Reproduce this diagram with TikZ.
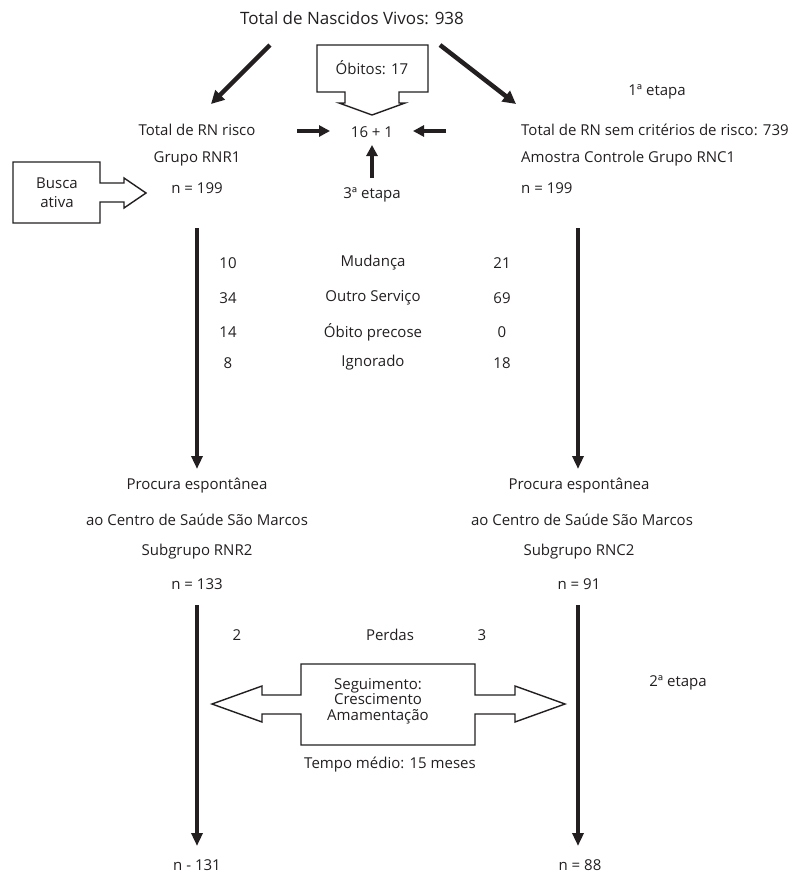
\documentclass[tikz,border=0pt]{standalone}
\usepackage{fontspec}
\setmainfont{Open Sans}
\usetikzlibrary{arrows.meta}
\definecolor{ink}{HTML}{231F20}
\begin{document}
\begin{tikzpicture}[x=1pt,y=-1pt,
  lbl/.style={font=\fontsize{15}{17}\selectfont, text=ink, inner sep=0pt},
  fat/.style={draw=ink, line width=4.5pt, -{Triangle[length=13pt,width=13pt]}},
  vline/.style={draw=ink, line width=4.5pt, -{Triangle[length=13pt,width=11pt]}},
  blk/.style={draw=ink, line width=1.4pt, fill=white, line join=miter}]
\useasboundingbox (0,0) rectangle (799,876);

% texts
\node[lbl, font=\fontsize{17}{20}\selectfont] (title) at (352,18) {Total de Nascidos Vivos: 938};
\node[lbl] (etapa1) at (657,92) {1ª etapa};
\node[lbl] (lt1) at (197,130) {Total de RN risco};
\node[lbl] (lt2) at (197,159) {Grupo RNR1};
\node[lbl] (lt3) at (197,188) {n = 199};
\node[lbl, anchor=west] (rt1) at (521,130) {Total de RN sem critérios de risco: 739};
\node[lbl, anchor=west] (rt2) at (521,159) {Amostra Controle Grupo RNC1};
\node[lbl, anchor=west] (rt3) at (521,188) {n = 199};
\node[lbl] (sum) at (372,132) {16 + 1};
\node[lbl] (etapa3) at (372,195) {3ª etapa};

% table
\node[lbl] (a1) at (228,263) {10};
\node[lbl] (b1) at (373,263) {Mudança};
\node[lbl] (c1) at (502,263) {21};
\node[lbl] (a2) at (228,298) {34};
\node[lbl] (b2) at (373,298) {Outro Serviço};
\node[lbl] (c2) at (502,298) {69};
\node[lbl] (a3) at (228,332) {14};
\node[lbl] (b3) at (373,332) {Óbito precose};
\node[lbl] (c3) at (502,332) {0};
\node[lbl] (a4) at (228,363) {8};
\node[lbl] (b4) at (373,363) {Ignorado};
\node[lbl] (c4) at (502,363) {18};

% lower blocks
\node[lbl] (lp1) at (197,486) {Procura espontânea};
\node[lbl] (lp2) at (197,520) {ao Centro de Saúde São Marcos};
\node[lbl] (lp3) at (197,552) {Subgrupo RNR2};
\node[lbl] (lp4) at (197,584) {n = 133};
\node[lbl] (rp1) at (579,486) {Procura espontânea};
\node[lbl] (rp2) at (582,520) {ao Centro de Saúde São Marcos};
\node[lbl] (rp3) at (579,552) {Subgrupo RNC2};
\node[lbl] (rp4) at (579,584) {n = 91};

\node[lbl] (p2) at (237,635) {2};
\node[lbl] (perdas) at (390,635) {Perdas};
\node[lbl] (p3) at (482,635) {3};
\node[lbl] (etapa2) at (678,683) {2ª etapa};
\node[lbl] (tempo) at (390,765) {Tempo médio: 15 meses};
\node[lbl] (lend) at (197,865) {n - 131};
\node[lbl] (rend) at (580,865) {n = 88};

% diagonal arrows
\coordinate (dl0) at (270,45);
\coordinate (dl1) at (211,104);
\coordinate (dr0) at (440,45);
\coordinate (dr1) at (516,104);
\draw[fat] (dl0) -- (dl1);
\draw[fat] (dr0) -- (dr1);

% small arrows to 16+1
\coordinate (sl0) at (297,131); \coordinate (sl1) at (330,131);
\coordinate (sr0) at (446,131); \coordinate (sr1) at (413,131);
\coordinate (su0) at (372,178); \coordinate (su1) at (372,145);
\draw[fat, -{Triangle[length=11pt,width=11pt]}] (sl0) -- (sl1);
\draw[fat, -{Triangle[length=11pt,width=11pt]}] (sr0) -- (sr1);
\draw[fat, -{Triangle[length=11pt,width=11pt]}] (su0) -- (su1);

% Obitos block arrow
\draw[blk] (317,45) -- (428,45) -- (428,92) -- (399,92) -- (399,103) -- (405,103)
  -- (372,115) -- (339,103) -- (345,103) -- (345,92) -- (317,92) -- cycle;
\node[lbl] (obitos) at (372,68) {Óbitos: 17};

% Busca ativa block arrow
\draw[blk] (13,162) -- (100,162) -- (100,183) -- (124,183) -- (124,178) -- (146,193)
  -- (124,208) -- (124,202) -- (100,202) -- (100,223) -- (13,223) -- cycle;
\node[lbl, align=center, font=\fontsize{15}{19}\selectfont] (busca) at (57,193) {Busca\\ativa};

% vertical arrows
\coordinate (vl0) at (197,228); \coordinate (vl1) at (197,469);
\coordinate (vr0) at (578,228); \coordinate (vr1) at (578,469);
\coordinate (wl0) at (197,605); \coordinate (wl1) at (197,846);
\coordinate (wr0) at (578,605); \coordinate (wr1) at (578,846);
\draw[vline] (vl0) -- (vl1);
\draw[vline] (vr0) -- (vr1);
\draw[vline] (wl0) -- (wl1);
\draw[vline] (wr0) -- (wr1);

% double block arrow
\draw[blk] (301,664) -- (475,664) -- (475,695) -- (515,695) -- (515,686) -- (565,704)
  -- (515,722) -- (515,714) -- (475,714) -- (475,745) -- (301,745) -- (301,714)
  -- (262,714) -- (262,722) -- (212,704) -- (262,686) -- (262,695) -- (301,695) -- cycle;
\node[lbl, align=center, font=\fontsize{15}{15.5}\selectfont] (segui) at (378,701) {Seguimento:\\Crescimento\\Amamentação};
\end{tikzpicture}
\end{document}
